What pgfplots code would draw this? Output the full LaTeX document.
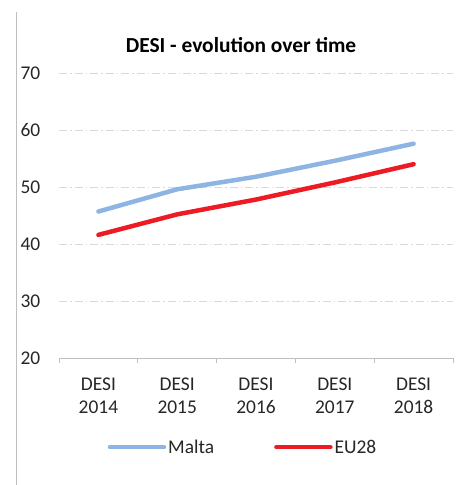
\documentclass[border=0pt]{standalone}
\usepackage{fontspec}
\setmainfont{Carlito}
\usepackage{pgfplots}
\pgfplotsset{compat=1.18}
\definecolor{maltablue}{RGB}{142,180,227}
\definecolor{eured}{RGB}{237,28,36}
\definecolor{gridgray}{RGB}{217,217,217}
\definecolor{axgray}{RGB}{191,191,191}
\begin{document}
\begin{tikzpicture}
\useasboundingbox (0,0) rectangle (462bp,485bp);
\draw[axgray, line width=0.9bp] (16bp,0bp) -- (16bp,473bp);
\begin{axis}[
  at={(59bp,127bp)}, anchor=south west,
  scale only axis, width=394bp, height=285bp,
  xmin=-0.5, xmax=4.5, ymin=20, ymax=70,
  xtick={0,1,2,3,4},
  xticklabels={{DESI\\2014},{DESI\\2015},{DESI\\2016},{DESI\\2017},{DESI\\2018}},
  minor xtick={-0.5,0.5,1.5,2.5,3.5,4.5},
  major x tick style={draw=none},
  minor x tick style={axgray, line width=0.8bp},
  minor tick length=5bp,
  tick align=outside,
  ytick={20,30,40,50,60,70},
  ytick style={draw=none},
  axis lines*=left,
  x axis line style={axgray, line width=0.9bp, -},
  y axis line style={draw=none},
  ymajorgrids,
  grid style={gridgray, line width=0.8bp, dash pattern=on 8bp off 3bp on 1.5bp off 3bp},
  /pgf/number format/assume math mode=true,
  tick label style={font=\fontsize{19.5}{23}\selectfont, text=black!85},
  xticklabel style={align=center, yshift=-12bp},
  yticklabel style={anchor=east, xshift=-11bp},
  title={DESI - evolution over time},
  title style={font=\fontsize{21.5}{25}\selectfont\bfseries, at={(axis description cs:0.462,1.077)}, anchor=center},
  legend columns=2,
  legend style={draw=none, at={(axis description cs:0.467,-0.313)}, anchor=center, font=\fontsize{19.5}{23}\selectfont, text=black!85,
    /tikz/every even column/.append style={column sep=58bp}},
  legend image code/.code={\draw[#1, line cap=round] (0bp,0bp) -- (54bp,0bp);},
]
\addplot[maltablue, line width=4.5bp, line cap=round] coordinates {(0,45.7) (1,49.6) (2,51.8) (3,54.6) (4,57.6)};
\addlegendentry{Malta}
\addplot[eured, line width=4.5bp, line cap=round] coordinates {(0,41.6) (1,45.2) (2,47.8) (3,50.8) (4,54.0)};
\addlegendentry{EU28}
\end{axis}
\end{tikzpicture}
\end{document}
